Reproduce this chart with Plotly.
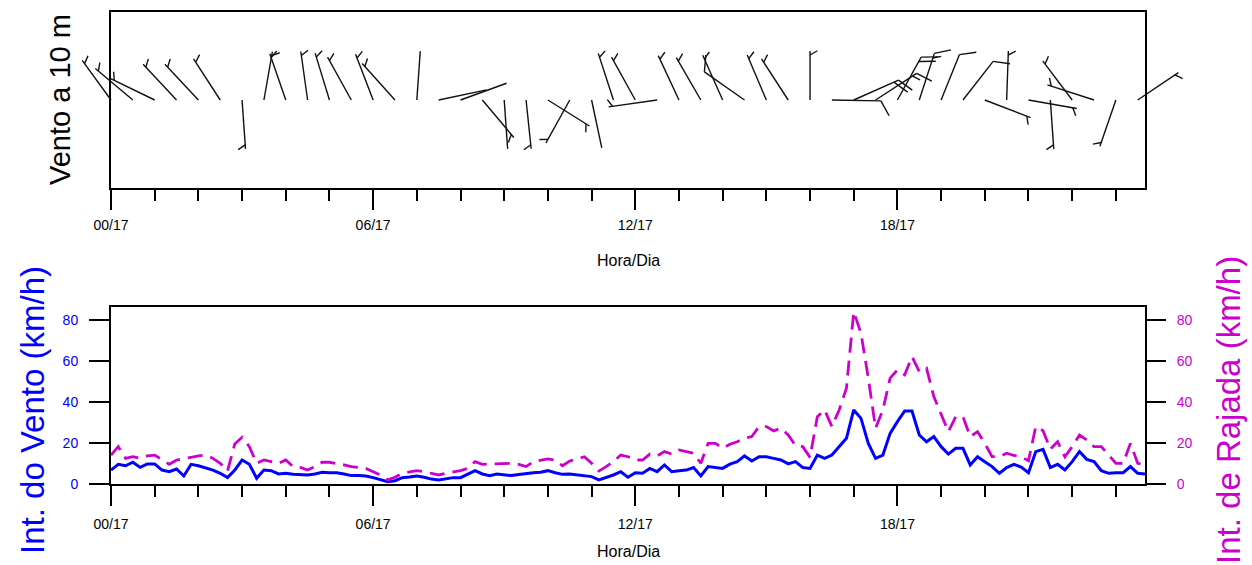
import math
import plotly.graph_objects as go

# ---------------- data ----------------
# 10-minute samples starting 00:00 on day 17 (index -> hours = index/6)
wind_kmh = [6.8, 9.6, 8.9, 10.6, 8.1, 9.8, 9.8, 6.8, 6.0, 7.3,
            3.9, 9.6, 8.9, 8.0, 6.8, 5.2, 3.1, 6.8, 11.7, 9.6,
            2.8, 6.8, 6.5, 4.9, 5.2, 4.7, 4.4, 4.4, 4.9, 5.7,
            5.5, 5.5, 4.9, 4.1, 4.1, 3.9, 3.1, 2.0, 1.1, 1.6,
            3.1, 3.4, 3.9, 3.3, 2.4, 2.0, 2.4, 3.1, 3.1, 4.9,
            6.5, 4.9, 4.1, 4.9, 4.4, 4.1, 4.6, 5.2, 5.5, 5.7,
            6.5, 5.5, 4.7, 4.9, 4.4, 4.2, 3.6, 2.0, 3.1, 4.4,
            6.0, 3.3, 5.5, 5.2, 7.6, 6.0, 9.3, 6.0, 6.5, 6.8,
            8.0, 3.9, 8.5, 8.1, 7.6, 9.7, 10.9, 13.7, 11.2, 13.3,
            13.3, 12.5, 11.7, 9.8, 10.9, 8.0, 7.6, 14.1, 12.5, 14.1,
            18.2, 22.3, 36.1, 32.0, 19.8, 12.5, 14.1, 24.7, 30.4, 35.6,
            35.6, 23.9, 20.6, 23.1, 18.2, 14.6, 17.4, 17.4, 9.3, 13.3,
            10.9, 8.5, 5.2, 8.0, 9.6, 8.3, 5.5, 15.8, 16.9, 8.0,
            9.6, 6.8, 10.9, 15.8, 12.0, 10.9, 6.5, 5.2, 5.5, 5.5,
            8.5, 5.2, 4.9]
gust_kmh = [14.1, 18.2, 12.5, 13.3, 12.5, 13.7, 14.1, 11.7, 9.6, 11.7,
            12.5, 13.0, 13.7, 14.1, 12.5, 10.1, 6.3, 19.5, 22.8, 18.2,
            10.1, 11.7, 10.9, 10.1, 11.7, 8.5, 8.1, 6.8, 8.5, 10.6,
            10.6, 10.1, 9.3, 8.5, 8.1, 7.6, 6.0, 4.4, 2.0, 3.3,
            5.2, 6.0, 6.5, 6.0, 5.2, 4.4, 5.2, 5.7, 6.5, 7.6,
            10.9, 9.6, 9.8, 9.8, 10.1, 10.1, 9.6, 8.5, 10.9, 11.7,
            12.2, 11.7, 8.9, 11.2, 12.2, 13.3, 10.1, 6.3, 8.5, 10.9,
            14.1, 13.3, 11.7, 11.7, 14.6, 13.7, 15.8, 14.6, 16.6, 15.8,
            15.0, 10.1, 19.8, 19.8, 17.4, 19.4, 20.6, 22.3, 23.1, 28.0,
            28.0, 25.9, 27.2, 23.9, 18.7, 18.2, 13.0, 32.8, 36.1, 28.0,
            36.1, 46.7, 84.0, 73.5, 51.6, 27.2, 36.1, 51.6, 55.6, 53.2,
            62.1, 54.8, 56.4, 42.6, 34.5, 25.5, 32.8, 32.8, 23.1, 25.5,
            19.8, 13.3, 13.3, 15.0, 13.9, 13.3, 11.3, 28.0, 26.0, 17.0,
            20.6, 13.3, 18.2, 23.9, 21.5, 18.2, 18.2, 14.1, 10.1, 10.1,
            19.8, 10.1, 9.3]

# wind barbs every 30 minutes: direction the wind blows FROM (deg) and speed (kt)
barb_dir = [324, 310, 296, 317, 317, 327, 176, 10, 341, 352,
            343, 331, 339, 318, 4, 78, 70, 140, 176, 174,
            122, 209, 168, 342, 331, 262, 335, 330, 336, 305,
            337, 327, 0, 91, 66, 57, 29, 18, 22, 38,
            111, 2, 100, 176, 323, 288, 199, 56]
barb_kt = [5, 5, 5, 5, 5, 5, 5, 5, 5, 5,
           5, 5, 5, 5, 0, 0, 0, 5, 0, 5,
           5, 5, 0, 5, 5, 5, 5, 5, 5, 10,
           5, 5, 5, 10, 20, 15, 20, 15, 10, 10,
           5, 5, 5, 5, 5, 5, 5, 5]

tick_hours = [0, 6, 12, 18]
tick_labels = ["00/17", "06/17", "12/17", "18/17"]
minor_hours = [h for h in range(24) if h % 6 != 0]

# ---------------- geometry ----------------
W, H = 1252, 565
FL, FR = 111, 1145            # frame left / right (px)
TOP_T, TOP_B = 12, 188        # top panel frame (px)
BOT_T, BOT_B = 307, 484       # bottom panel frame (px)
BLUE = "#0000FF"
MAG = "#CC00CC"
FONT = "Liberation Sans, Arial, Helvetica, sans-serif"

t_hours = [i / 6 for i in range(len(wind_kmh))]
x_max = t_hours[-1]
px_per_hour = (FR - FL) / x_max
xdom = [FL / W, FR / W]
top_ydom = [(H - TOP_B) / H, (H - TOP_T) / H]
bot_ydom = [(H - BOT_B) / H, (H - BOT_T) / H]
half_h = (TOP_B - TOP_T) / 2

# ---------------- barbs (built in pixel-isotropic units) ----------------
SHAFT, FULL, HALF, STEP = 49.0, 17.0, 8.5, 5.0
bx, by = [], []


def seg(x0, y0, x1, y1):
    bx.extend([x0 / px_per_hour, x1 / px_per_hour, None])
    by.extend([y0, y1, None])


for k, (d, s) in enumerate(zip(barb_dir, barb_kt)):
    th = math.radians(d)
    ux, uy = math.sin(th), math.cos(th)          # toward where wind comes from (y up)
    rx, ry = math.cos(th), -math.sin(th)         # clockwise side
    fx, fy = 0.5 * ux + 0.866 * rx, 0.5 * uy + 0.866 * ry
    x0 = (k * 0.5) * px_per_hour
    y0 = 0.0
    tx, ty = x0 + SHAFT * ux, y0 + SHAFT * uy
    seg(x0, y0, tx, ty)
    n_full = int(s // 10)
    n_half = 1 if (s - 10 * n_full) >= 5 else 0
    pos = 0.0 if n_full else 4.0
    for _ in range(n_full):
        px, py = tx - pos * ux, ty - pos * uy
        seg(px, py, px + FULL * fx, py + FULL * fy)
        pos += STEP
    if n_half:
        px, py = tx - pos * ux, ty - pos * uy
        seg(px, py, px + HALF * fx, py + HALF * fy)

fig = go.Figure()

# empty trace so the framed top panel is created
fig.add_trace(go.Scatter(x=[None], y=[None], xaxis="x", yaxis="y", mode="lines",
                         showlegend=False, hoverinfo="skip"))
fig.add_trace(go.Scatter(x=bx, y=by, mode="lines", xaxis="x3", yaxis="y3",
                         line=dict(color="#111111", width=1.4),
                         hoverinfo="skip", showlegend=False))

fig.add_trace(go.Scatter(x=t_hours, y=wind_kmh, mode="lines", xaxis="x2", yaxis="y2",
                         line=dict(color=BLUE, width=3), showlegend=False))
fig.add_trace(go.Scatter(x=t_hours, y=gust_kmh, mode="lines", xaxis="x2", yaxis="y4",
                         line=dict(color=MAG, width=2.8, dash="15px,8px"),
                         showlegend=False))

xcommon = dict(range=[0, x_max], domain=xdom, tickmode="array", tickvals=tick_hours,
               ticktext=tick_labels, ticks="outside", ticklen=20, tickwidth=2,
               tickcolor="black", showline=True, linewidth=2, linecolor="black",
               mirror=True, showgrid=False, zeroline=False, automargin=False,
               tickfont=dict(family=FONT, size=14, color="black"),
               ticklabelstandoff=6,
               minor=dict(tickmode="array", tickvals=minor_hours, ticks="outside",
                          ticklen=11, tickwidth=1.5, tickcolor="black"))

pad = 70
fig.update_layout(
    width=W, height=H, autosize=False,
    margin=dict(l=0, r=0, t=0, b=0, pad=0, autoexpand=False),
    paper_bgcolor="white", plot_bgcolor="rgba(0,0,0,0)",
    font=dict(family=FONT),
    xaxis=dict(xcommon, anchor="y", ticklabelstandoff=3),
    yaxis=dict(domain=top_ydom, range=[-half_h, half_h], showticklabels=False,
               ticks="", showline=True, linewidth=2, linecolor="black", mirror=True,
               showgrid=False, zeroline=False, anchor="x", automargin=False),
    xaxis2=dict(xcommon, anchor="y2"),
    yaxis2=dict(domain=bot_ydom, range=[0, 86.3], anchor="x2", tickmode="array",
                tickvals=[0, 20, 40, 60, 80], ticks="outside", ticklen=20, tickwidth=2,
                tickcolor="black", showline=True, linewidth=2, linecolor="black",
                mirror=True, showgrid=False, zeroline=False, automargin=False,
                tickfont=dict(family=FONT, size=14, color=BLUE), ticklabelstandoff=8),
    yaxis4=dict(overlaying="y2", side="right", range=[0, 86.3], anchor="x2",
                tickmode="array", tickvals=[0, 20, 40, 60, 80], ticks="outside",
                ticklen=20, tickwidth=2, tickcolor="black", showline=False,
                showgrid=False, zeroline=False, automargin=False,
                tickfont=dict(family=FONT, size=14, color=MAG), ticklabelstandoff=8),
    xaxis3=dict(domain=[(FL - pad) / W, (FR + pad) / W],
                range=[-pad / px_per_hour, x_max + pad / px_per_hour],
                visible=False, anchor="y3", fixedrange=True, automargin=False),
    yaxis3=dict(domain=top_ydom, range=[-half_h, half_h], visible=False,
                anchor="x3", fixedrange=True, automargin=False),
    showlegend=False,
)

ann = [
    dict(text="Vento a 10 m", x=60 / W, y=(H - 100) / H, textangle=-90,
         font=dict(size=29, color="black")),
    dict(text="Hora/Dia", x=628 / W, y=(H - 260) / H, font=dict(size=16, color="black")),
    dict(text="Hora/Dia", x=628 / W, y=(H - 551) / H, font=dict(size=16, color="black")),
    dict(text="Int. do Vento (km/h)", x=32 / W, y=(H - 410) / H, textangle=-90,
         font=dict(size=33, color=BLUE)),
    dict(text="Int. de Rajada (km/h)", x=1228 / W, y=(H - 410) / H, textangle=-90,
         font=dict(size=33, color=MAG)),
]
for a in ann:
    a.update(xref="paper", yref="paper", showarrow=False, xanchor="center",
             yanchor="middle")
fig.update_layout(annotations=ann)

fig.write_html("out.html")
